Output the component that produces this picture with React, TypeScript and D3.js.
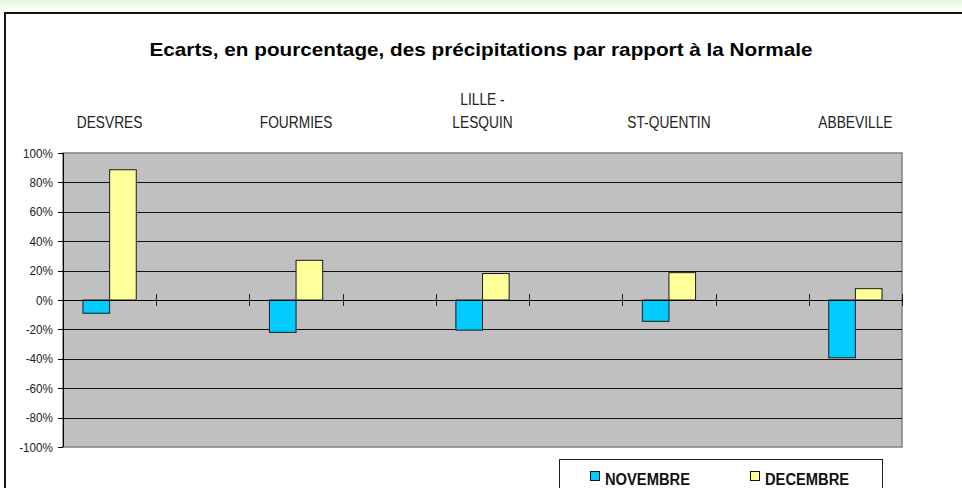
import React from 'react';
import * as d3 from 'd3';

const categories: string[][] = [['DESVRES'], [], ['FOURMIES'], [], ['LILLE -', 'LESQUIN'], [], ['ST-QUENTIN'], [], ['ABBEVILLE']];
const novembre: (number | null)[] = [-9, null, -22, null, -20.5, null, -14.5, null, -39.3];
const decembre: (number | null)[] = [88.6, null, 27, null, 18, null, 18.6, null, 7.7];
const yTicks = [-100, -80, -60, -40, -20, 0, 20, 40, 60, 80, 100];
const seriesNames = ['NOVEMBRE', 'DECEMBRE'];
const seriesColors = ['#00ccff', '#ffff99'];

const W = 962, H = 488;
const FONT = '"Liberation Sans", Arial, sans-serif';

export default function App() {
  const left = 63, right = 902, top = 153, bottom = 447;
  const x = d3.scaleBand<number>().domain(categories.map((_, i) => i)).range([left, right]).paddingInner(0).paddingOuter(0);
  const y = d3.scaleLinear().domain([-100, 100]).range([bottom, top]);
  const step = x.step();
  const bw = step / 3.5;
  const y0 = y(0);
  const series = [novembre, decembre];

  return (
    <svg width={W} height={H} style={{ position: 'absolute', left: 0, top: 0, background: '#fff' }} fontFamily={FONT}>
      <defs>
        <linearGradient id="topg" x1="0" y1="0" x2="0" y2="1">
          <stop offset="0" stopColor="#e4f8da" />
          <stop offset="1" stopColor="#ffffff" />
        </linearGradient>
      </defs>
      <rect x={0} y={0} width={W} height={12} fill="url(#topg)" />
      <path d={`M5,${H} V13 H${W}`} fill="none" stroke="#141414" strokeWidth={2} />

      <text x={481} y={56} textAnchor="middle" fontWeight="bold" fontSize={19} textLength={663} lengthAdjust="spacingAndGlyphs" fill="#000">
        Ecarts, en pourcentage, des précipitations par rapport à la Normale
      </text>

      {/* plot area */}
      <rect x={left} y={top} width={right - left} height={bottom - top} fill="#c0c0c0" stroke="#808080" strokeWidth={1.5} />

      {/* gridlines */}
      {yTicks.filter(t => t !== 100 && t !== -100 && t !== 0).map(t => (
        <line key={t} x1={left} x2={right} y1={Math.round(y(t)) + 0.5} y2={Math.round(y(t)) + 0.5} stroke="#111" strokeWidth={1} />
      ))}

      {/* bars */}
      {categories.map((_, i) => series.map((s, si) => {
        const v = s[i];
        if (v == null) return null;
        const bx = (x(i) as number) + 0.75 * bw + si * bw;
        const yy = y(v);
        return (
          <rect key={`${i}-${si}`} x={bx} y={Math.min(yy, y0)} width={bw} height={Math.abs(yy - y0)}
            fill={seriesColors[si]} stroke="#1a1a1a" strokeWidth={1} />
        );
      }))}

      {/* zero axis with cross ticks */}
      <line x1={left} x2={right} y1={Math.round(y0) + 0.5} y2={Math.round(y0) + 0.5} stroke="#000" strokeWidth={1} />
      {categories.map((_, i) => {
        const tx = Math.round((x(i) as number) + step) + 0.5;
        return <line key={i} x1={tx} x2={tx} y1={y0 - 6} y2={y0 + 6} stroke="#222" strokeWidth={1} />;
      })}

      {/* y axis */}
      <line x1={left + 0.5} x2={left + 0.5} y1={top} y2={bottom} stroke="#000" strokeWidth={1} />
      {yTicks.map(t => (
        <g key={t}>
          <line x1={left - 5} x2={left} y1={Math.round(y(t)) + 0.5} y2={Math.round(y(t)) + 0.5} stroke="#000" />
          <text transform={`translate(53,${y(t) + 4.5}) scale(0.9,1)`} textAnchor="end" fontSize={13} fill="#222">{t}%</text>
        </g>
      ))}

      {/* category labels at top */}
      {categories.map((lines, i) => {
        const cx = (x(i) as number) + step / 2;
        return lines.map((ln, li) => (
          <text key={`${i}-${li}`} transform={`translate(${cx},${128 - (lines.length - 1 - li) * 23}) scale(0.86,1)`}
            textAnchor="middle" fontSize={16} fill="#222">{ln}</text>
        ));
      })}

      {/* legend */}
      <rect x={559.5} y={459.5} width={323} height={40} fill="#fff" stroke="#222" strokeWidth={1} />
      {seriesNames.map((name, si) => {
        const lx = 590 + si * 160;
        return (
          <g key={name}>
            <rect x={lx + 0.5} y={471.5} width={9} height={9} fill={seriesColors[si]} stroke="#111" strokeWidth={1} />
            <text transform={`translate(${lx + 15},484.5) scale(0.92,1)`} fontSize={16} fontWeight="bold" fill="#111">{name}</text>
          </g>
        );
      })}
    </svg>
  );
}
